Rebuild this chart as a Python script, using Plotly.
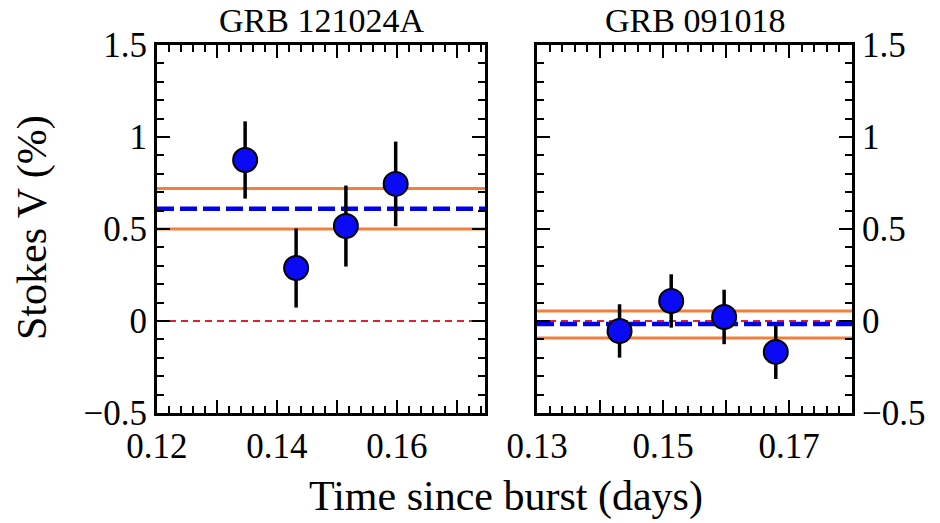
import plotly.graph_objects as go
from plotly.subplots import make_subplots

# Circular polarisation (Stokes V) measurements for two GRB afterglows
titles = ["GRB 121024A", "GRB 091018"]

t_121024a = [0.1347, 0.1432, 0.1515, 0.1598]
v_121024a = [0.875, 0.288, 0.516, 0.745]
e_121024a = [0.21, 0.215, 0.22, 0.23]
mean_121024a = 0.61
band_121024a = [0.50, 0.72]

t_091018 = [0.1431, 0.1513, 0.1597, 0.1679]
v_091018 = [-0.054, 0.109, 0.022, -0.168]
e_091018 = [0.145, 0.145, 0.148, 0.147]
mean_091018 = -0.016
band_091018 = [-0.092, 0.054]

xrange_121024a = [0.12, 0.1747]
xrange_091018 = [0.13, 0.18]
yrange = [-0.5, 1.5]

xticks_121024a = [0.12, 0.13, 0.14, 0.15, 0.16, 0.17]
xlabels_121024a = ["0.12", "", "0.14", "", "0.16", ""]
xticks_091018 = [0.13, 0.14, 0.15, 0.16, 0.17, 0.18]
xlabels_091018 = ["0.13", "", "0.15", "", "0.17", ""]
yticks = [-0.5, 0, 0.5, 1, 1.5]
ylabels = ["\u22120.5", "0", "0.5", "1", "1.5"]

FONT = "Liberation Serif"
ORANGE = "#f2803c"
BLUE = "#0000ee"

fig = make_subplots(rows=1, cols=2)

panels = [
    (1, t_121024a, v_121024a, e_121024a, mean_121024a, band_121024a, xrange_121024a),
    (2, t_091018, v_091018, e_091018, mean_091018, band_091018, xrange_091018),
]

for col, t, v, e, mean, band, xr in panels:
    for level in band:
        fig.add_trace(go.Scatter(x=xr, y=[level, level], mode="lines",
                                 line=dict(color=ORANGE, width=3),
                                 showlegend=False, hoverinfo="skip"), row=1, col=col)
    fig.add_trace(go.Scatter(x=xr, y=[0, 0], mode="lines",
                             line=dict(color="#e0202a", width=2, dash="7px,5px"),
                             showlegend=False, hoverinfo="skip"), row=1, col=col)
    fig.add_trace(go.Scatter(x=xr, y=[mean, mean], mode="lines",
                             line=dict(color=BLUE, width=4.5, dash="17px,6px"),
                             showlegend=False, hoverinfo="skip"), row=1, col=col)
    fig.add_trace(go.Scatter(x=t, y=v, mode="markers",
                             error_y=dict(type="data", array=e, color="black",
                                          thickness=3.5, width=0),
                             marker=dict(size=24, color="#0a0af5",
                                         line=dict(color="black", width=2)),
                             showlegend=False), row=1, col=col)

axis_common = dict(
    showline=True, linecolor="black", linewidth=3, mirror="allticks",
    ticks="inside", ticklen=13, tickwidth=2, tickcolor="black",
    showgrid=False, zeroline=False, automargin=False,
    tickfont=dict(family=FONT, size=35, color="black"),
)

fig.update_xaxes(range=xrange_121024a, tickmode="array", tickvals=xticks_121024a,
                 ticktext=xlabels_121024a, domain=[0.167, 0.516],
                 minor=dict(dtick=0.002, ticklen=7, tickwidth=1.5, tickcolor="black",
                            ticks="inside", showgrid=False),
                 row=1, col=1, **axis_common)
fig.update_xaxes(range=xrange_091018, tickmode="array", tickvals=xticks_091018,
                 ticktext=xlabels_091018, domain=[0.5713, 0.9064],
                 minor=dict(dtick=0.002, ticklen=7, tickwidth=1.5, tickcolor="black",
                            ticks="inside", showgrid=False),
                 row=1, col=2, **axis_common)

for col, side in [(1, "left"), (2, "right")]:
    fig.update_yaxes(range=yrange, tickmode="array", tickvals=yticks, ticktext=ylabels,
                     side=side, domain=[0.2103, 0.914],
                     minor=dict(dtick=0.1, tick0=0, ticklen=7, tickwidth=1.5,
                                tickcolor="black", ticks="inside", showgrid=False),
                     row=1, col=col, **axis_common)

annotations = [
    dict(text=titles[0], x=(0.167 + 0.516) / 2, y=1.0, xref="paper", yref="paper",
         xanchor="center", yanchor="top", showarrow=False,
         font=dict(family=FONT, size=34, color="black")),
    dict(text=titles[1], x=(0.5713 + 0.9064) / 2, y=1.0, xref="paper", yref="paper",
         xanchor="center", yanchor="top", showarrow=False,
         font=dict(family=FONT, size=34, color="black")),
    dict(text="Time since burst (days)", x=506 / 940, y=1 - 496 / 523,
         xref="paper", yref="paper", xanchor="center", yanchor="middle",
         showarrow=False, font=dict(family=FONT, size=42, color="black")),
    dict(text="Stokes V (%)", x=32 / 940, y=1 - 228 / 523, textangle=-90,
         xref="paper", yref="paper", xanchor="center", yanchor="middle",
         showarrow=False, font=dict(family=FONT, size=42, color="black")),
]

fig.update_layout(
    width=940, height=523,
    margin=dict(l=0, r=0, t=0, b=0),
    paper_bgcolor="white", plot_bgcolor="white",
    font=dict(family=FONT, color="black"),
    annotations=annotations,
)

fig.write_html("out.html")
